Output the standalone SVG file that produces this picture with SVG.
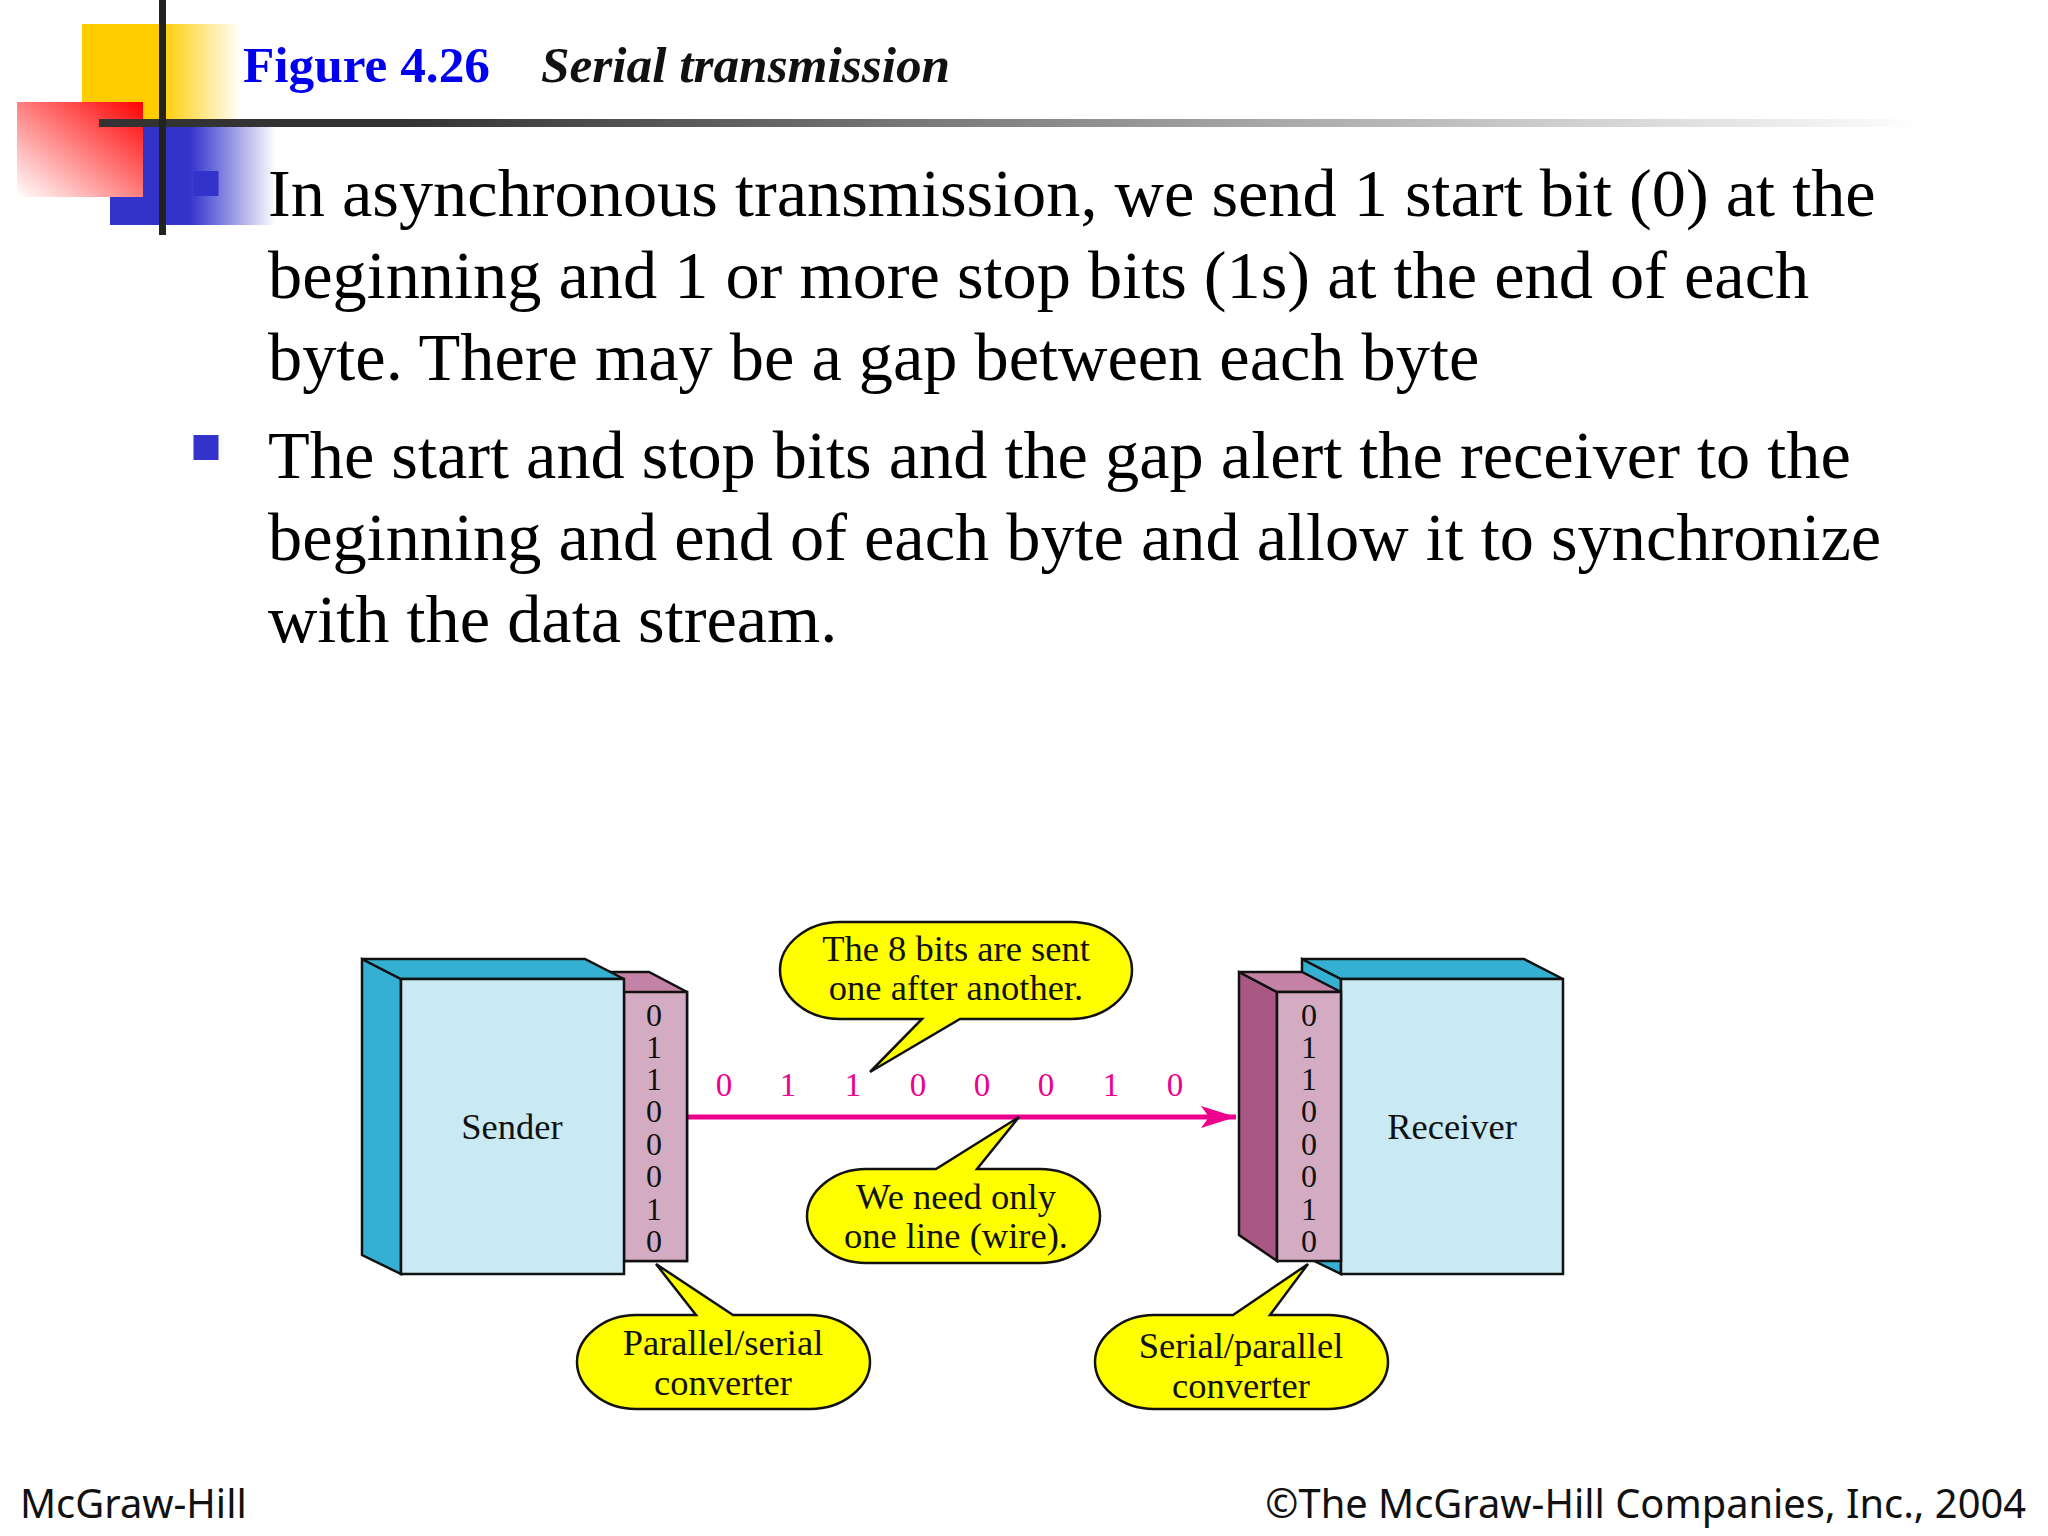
<svg xmlns="http://www.w3.org/2000/svg" width="2048" height="1536" viewBox="0 0 2048 1536">
<style>
.body{font-family:"Liberation Serif","Times New Roman",serif;font-size:68.35px;fill:#000}
.foot{font-family:"Noto Sans","Open Sans",sans-serif;font-size:39.85px;fill:#111}
.fig{font-family:"Liberation Serif","Times New Roman",serif;fill:#111}
.lbl{font-size:36.5px;text-anchor:middle}
.bit{font-size:32px;text-anchor:middle}
.wbit{font-size:33px;text-anchor:middle}
.wbit text{fill:#ec008c}
.o{stroke:#111;stroke-width:2.5;stroke-linejoin:miter}
.call{fill:#ffff00}
</style>
<defs>
<linearGradient id="gy" x1="0" x2="1" y1="0" y2="0"><stop offset="0.5" stop-color="#ffcc00"/><stop offset="1" stop-color="#ffcc00" stop-opacity="0"/></linearGradient>
<linearGradient id="gb" x1="0" x2="1" y1="0" y2="0"><stop offset="0.48" stop-color="#3333cc"/><stop offset="1" stop-color="#3333cc" stop-opacity="0"/></linearGradient>
<linearGradient id="gr" x1="1" x2="0" y1="0" y2="1"><stop offset="0" stop-color="#ff0000"/><stop offset="1" stop-color="#ffffff"/></linearGradient>
<linearGradient id="gk" gradientUnits="userSpaceOnUse" x1="400" x2="1925" y1="0" y2="0"><stop offset="0" stop-color="#333"/><stop offset="1" stop-color="#333" stop-opacity="0"/></linearGradient>
<marker id="arrow" markerUnits="userSpaceOnUse" markerWidth="36" markerHeight="24" refX="35" refY="12" orient="auto"><path d="M0 1 L35 12 L0 23 L8 12 Z" fill="#ec008c"/></marker>
</defs>
<rect width="2048" height="1536" fill="#fff"/>
<g id="decor">
<rect x="82" y="24" width="159" height="95" fill="url(#gy)"/>
<rect x="110" y="119" width="166" height="106" fill="url(#gb)"/>
<rect x="17" y="102" width="126" height="95" fill="url(#gr)"/>
<rect x="99" y="119" width="1826" height="8" fill="url(#gk)"/>
<rect x="99" y="119" width="301" height="8" fill="#333"/>
<rect x="159" y="0" width="7" height="235" fill="#222"/>
</g>
<g id="title">
<text class="fig" x="243" y="82" font-size="51.3" font-weight="bold" style="fill:#0000ee">Figure 4.26</text>
<text class="fig" x="541" y="82" font-size="51.3" font-weight="bold" font-style="italic">Serial transmission</text>
</g>
<g id="bullets">
<rect x="193.500" y="171" width="25" height="25" fill="#3333cc"/>
<rect x="193.500" y="435" width="25" height="25" fill="#3333cc"/>
<text class="body" x="268" y="215.500">In asynchronous transmission, we send 1 start bit (0) at the</text>
<text class="body" x="268" y="297.500">beginning and 1 or more stop bits (1s) at the end of each</text>
<text class="body" x="268" y="379.500">byte. There may be a gap between each byte</text>
<text class="body" x="268" y="478">The start and stop bits and the gap alert the receiver to the</text>
<text class="body" x="268" y="560">beginning and end of each byte and allow it to synchronize</text>
<text class="body" x="268" y="642">with the data stream.</text>
</g>
<g id="connectors">
<line x1="687" y1="1117" x2="1236" y2="1117" stroke="#ec008c" stroke-width="5" marker-end="url(#arrow)"/>
</g>
<g id="sender-converter">
<path class="o" d="M610 972 H649 L687 992 V1261 H624 V992 Z" fill="#c483a6"/>
<rect class="o" x="624" y="992" width="63" height="269" fill="#d3abc2"/>
<g class="fig bit">
<text x="654" y="1026">0</text><text x="654" y="1058">1</text><text x="654" y="1090">1</text><text x="654" y="1122">0</text><text x="654" y="1155">0</text><text x="654" y="1187">0</text><text x="654" y="1220">1</text><text x="654" y="1252">0</text>
</g>
</g>
<g id="sender">
<path class="o" d="M362 959 L401 979 V1274 L362 1255 Z" fill="#35b0d3"/>
<path class="o" d="M362 959 H585 L624 979 H401 Z" fill="#35b0d3"/>
<rect class="o" x="401" y="979" width="223" height="295" fill="#c9eaf2"/>
<text class="fig lbl" x="512" y="1139">Sender</text>
</g>
<g id="receiver">
<path class="o" d="M1302 959 L1341 979 V1274 L1302 1255 Z" fill="#35b0d3"/>
<path class="o" d="M1302 959 H1524 L1563 979 H1341 Z" fill="#35b0d3"/>
<rect class="o" x="1341" y="979" width="222" height="295" fill="#c9eaf2"/>
<text class="fig lbl" x="1452" y="1139">Receiver</text>
</g>
<g id="receiver-converter">
<path class="o" d="M1239 972 L1277 992 V1261 L1239 1235 Z" fill="#a95783"/>
<path class="o" d="M1239 972 H1302 L1341 992 H1277 Z" fill="#c483a6"/>
<rect class="o" x="1277" y="992" width="64" height="269" fill="#d3abc2"/>
<g class="fig bit">
<text x="1309" y="1026">0</text><text x="1309" y="1058">1</text><text x="1309" y="1090">1</text><text x="1309" y="1122">0</text><text x="1309" y="1155">0</text><text x="1309" y="1187">0</text><text x="1309" y="1220">1</text><text x="1309" y="1252">0</text>
</g>
</g>
<g id="wire-bits" class="fig wbit">
<text x="724" y="1096">0</text><text x="788" y="1096">1</text><text x="853" y="1096">1</text><text x="918" y="1096">0</text><text x="982" y="1096">0</text><text x="1046" y="1096">0</text><text x="1111" y="1096">1</text><text x="1175" y="1096">0</text>
</g>
<g id="callout-bits">
<path class="o call" d="M840 922 H1071 C1105 922 1132 945 1132 970 C1132 996 1105 1019 1071 1019 H960 L870 1072 L922 1019 H840 C806 1019 780 996 780 970 C780 945 806 922 840 922 Z"/>
<text class="fig lbl" x="956" y="961">The 8 bits are sent</text>
<text class="fig lbl" x="956" y="1000">one after another.</text>
</g>
<g id="callout-line">
<path class="o call" d="M866 1169 H936 L1019 1117 L977 1169 H1040 C1074 1169 1100 1192 1100 1216 C1100 1240 1074 1263 1040 1263 H866 C833 1263 807 1240 807 1216 C807 1192 833 1169 866 1169 Z"/>
<text class="fig lbl" x="956" y="1209">We need only</text>
<text class="fig lbl" x="956" y="1248">one line (wire).</text>
</g>
<g id="callout-ps">
<path class="o call" d="M636 1315 H696 L656 1264 L733 1315 H810 C844 1315 870 1338 870 1362 C870 1386 844 1409 810 1409 H636 C603 1409 577 1386 577 1362 C577 1338 603 1315 636 1315 Z"/>
<text class="fig lbl" x="723" y="1355">Parallel/serial</text>
<text class="fig lbl" x="723" y="1395">converter</text>
</g>
<g id="callout-sp">
<path class="o call" d="M1154 1315 H1233 L1308 1264 L1270 1315 H1328 C1362 1315 1388 1338 1388 1362 C1388 1386 1362 1409 1328 1409 H1154 C1121 1409 1095 1386 1095 1362 C1095 1338 1121 1315 1154 1315 Z"/>
<text class="fig lbl" x="1241" y="1358">Serial/parallel</text>
<text class="fig lbl" x="1241" y="1398">converter</text>
</g>
<g id="footer">
<text class="foot" x="20" y="1518">McGraw-Hill</text>
<text class="foot" x="2026" y="1518" text-anchor="end">©The McGraw-Hill Companies, Inc., 2004</text>
</g>
</svg>
